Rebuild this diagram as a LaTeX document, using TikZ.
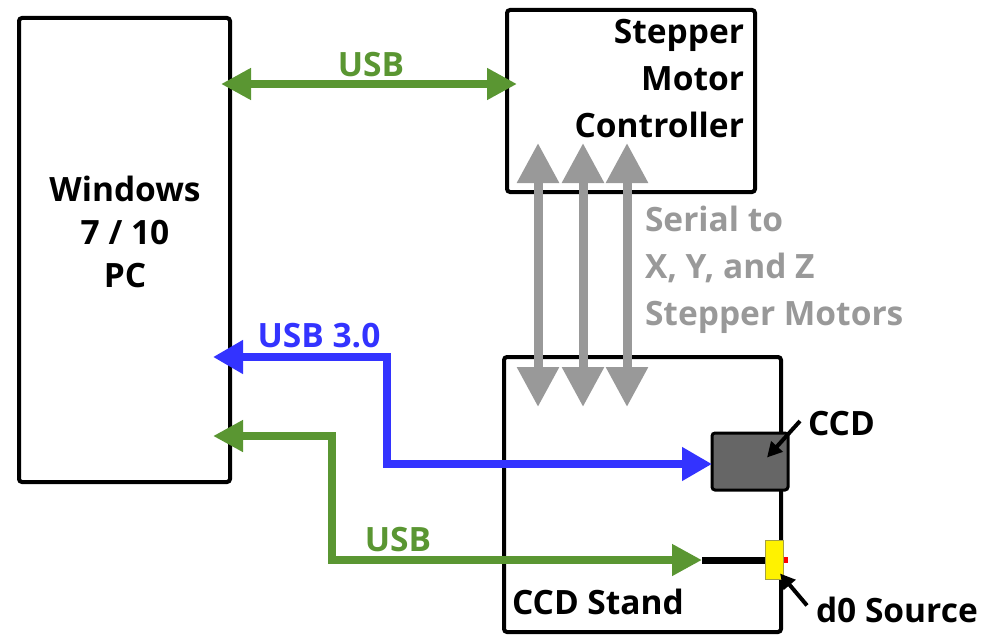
\documentclass[tikz,border=0pt]{standalone}
\usepackage{fontspec}
\setmainfont{Open Sans}
\usetikzlibrary{arrows.meta}

\begin{document}
\begin{tikzpicture}[x=1pt,y=-1pt]
    % --- MANUAL CONFIGURATION ---
    % 1. Colours
    \definecolor{usbGreen}{RGB}{90, 150, 50}
    \definecolor{usbBlue}{RGB}{51, 51, 255}
    \definecolor{serialGray}{RGB}{153, 153, 153}
    \definecolor{ccdGray}{RGB}{102, 102, 102}

    % --- STYLES ---
    \tikzset{
        boxNode/.style={rectangle, draw=black, line width=4pt, rounded corners=3pt, inner sep=0pt, outer sep=0pt},
        labelText/.style={inner sep=0pt, outer sep=0pt, font=\fontsize{33.5}{47}\selectfont\bfseries},
        usbLine/.style={{Triangle[length=30pt,width=30pt]}-{Triangle[length=30pt,width=30pt]}, draw=usbGreen, line width=8pt},
        usb3Line/.style={{Triangle[length=30pt,width=32pt]}-{Triangle[length=30pt,width=32pt]}, draw=usbBlue, line width=8pt},
        serialLine/.style={{Triangle[length=40pt,width=40pt]}-{Triangle[length=40pt,width=40pt]}, draw=serialGray, line width=9pt},
        pointerLine/.style={-{Triangle[length=15pt,width=15pt]}, draw=black, line width=4pt},
        cableLine/.style={draw=black, line width=7pt}
    }

    \useasboundingbox (0,0) rectangle (995,634);

    % --- NODES ---

    % Boxes
    \node[boxNode, minimum width=211pt, minimum height=464pt] (pc) at (124.5,250) {};
    \node[boxNode, minimum width=248pt, minimum height=182pt] (smc) at (631,101) {};
    \node[boxNode, minimum width=277pt, minimum height=275pt] (stand) at (642.5,494.5) {};
    \node[boxNode, fill=ccdGray, line width=3pt, minimum width=76pt, minimum height=57pt] (ccd) at (750,461.5) {};

    % d0 source on the stand
    \coordinate (cableEnd) at (702,560);
    \node[inner sep=0pt, fill=red, minimum width=5pt, minimum height=6pt] (srcTip) at (785.5,560) {};
    \node[inner sep=0pt, outer sep=0pt, draw=yellow!60!black, line width=0.6pt, fill=yellow, minimum width=18pt, minimum height=39pt] (src) at (774,560) {};

    % Texts (base = last line)
    \node[labelText, font=\fontsize{33.5}{43}\selectfont\bfseries, align=center, anchor=base] (pcText) at (125,287) {Windows\\7 / 10\\PC};
    \node[labelText, align=right, anchor=base east] (smcText) at (744,137) {Stepper\\Motor\\Controller};
    \node[labelText, align=left, anchor=base west, text=serialGray] (serialText) at (645,325) {Serial to\\X, Y, and Z\\Stepper Motors};
    \node[labelText, anchor=base west] (standText) at (512,614) {CCD Stand};
    \node[labelText, anchor=base west] (ccdText) at (808,435) {CCD};
    \node[labelText, anchor=base west] (srcText) at (816,622) {d0 Source};
    \node[labelText, anchor=base, text=usbGreen] (usbTopText) at (371,76) {USB};
    \node[labelText, anchor=base, text=usbBlue] (usb3Text) at (319,347) {USB 3.0};
    \node[labelText, anchor=base, text=usbGreen] (usbLowText) at (398,551) {USB};

    % --- ARROWS ---

    % PC to controller
    \draw[usbLine, shorten <=-9pt, shorten >=-10pt] (pc.east |- 0,84) -- (smc.west |- 0,84);

    % Controller to stand, one per axis
    \foreach \x in {538,583,627}
        \draw[serialLine, shorten <=-49pt, shorten >=-50pt] (smc.south -| \x,0) -- (stand.north -| \x,0);

    % PC to CCD
    \draw[usb3Line, shorten <=-17pt] (pc.east |- 0,357) -| (387,464) -- (ccd.west |- 0,464);

    % PC to d0 source
    \draw[cableLine] (cableEnd) -- (src.west);
    \draw[usbLine, shorten <=-17pt] (pc.east |- 0,436) -| (332,560) -- (cableEnd);

    % Pointers
    \draw[pointerLine] ([xshift=-8pt,yshift=2pt]ccdText.west) -- ([xshift=17pt,yshift=4pt]ccd.center);
    \draw[pointerLine] ([xshift=-9pt,yshift=4pt]srcText.west) -- ([xshift=-3pt,yshift=6pt]src.south east);

\end{tikzpicture}
\end{document}
